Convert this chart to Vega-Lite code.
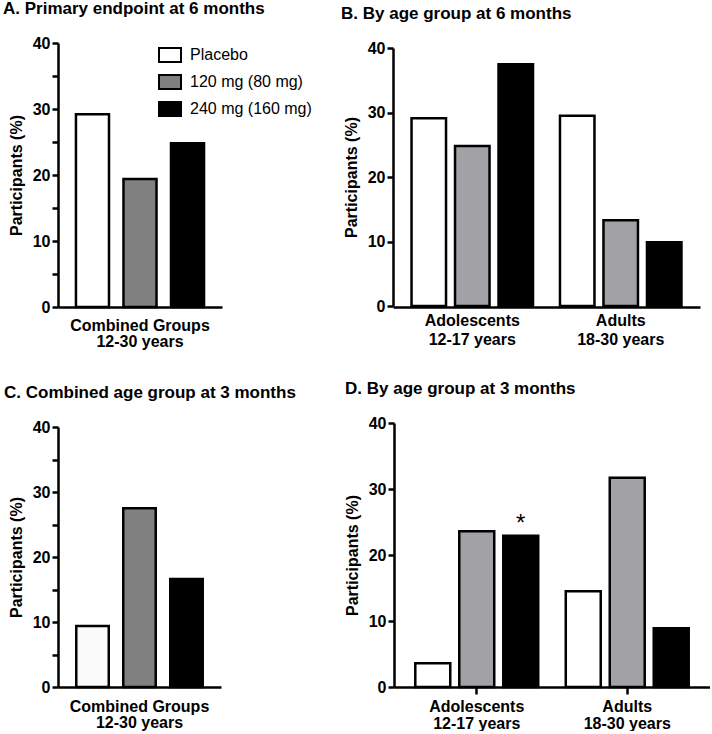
{
  "$schema": "https://vega.github.io/schema/vega-lite/v6.json",
  "padding": {"left": 3, "top": 0, "right": 0, "bottom": 0},
  "config": {
    "font": "Liberation Sans",
    "view": {"stroke": null},
    "axis": {
      "domainColor": "black", "domainWidth": 2.5, "tickColor": "black", "tickWidth": 2.5,
      "labelColor": "black", "labelFont": "Liberation Sans", "labelFontSize": 16, "labelFontWeight": "bold",
      "titleColor": "black", "titleFont": "Liberation Sans", "titleFontSize": 16, "titleFontWeight": "bold",
      "grid": false
    },
    "title": {"font": "Liberation Sans", "fontSize": 17, "fontWeight": "bold", "color": "black", "anchor": "start", "frame": "group", "offset": 17}
  },
  "data": {
    "values": [
      {"panel": "A", "age": "Combined Groups|12-30 years", "group": "Placebo", "value": 29.2},
      {"panel": "A", "age": "Combined Groups|12-30 years", "group": "120 mg (80 mg)", "value": 19.4},
      {"panel": "A", "age": "Combined Groups|12-30 years", "group": "240 mg (160 mg)", "value": 24.8},
      {"panel": "B", "age": "Adolescents|12-17 years", "group": "Placebo", "value": 29.1},
      {"panel": "B", "age": "Adolescents|12-17 years", "group": "120 mg (80 mg)", "value": 24.8},
      {"panel": "B", "age": "Adolescents|12-17 years", "group": "240 mg (160 mg)", "value": 37.5},
      {"panel": "B", "age": "Adults|18-30 years", "group": "Placebo", "value": 29.5},
      {"panel": "B", "age": "Adults|18-30 years", "group": "120 mg (80 mg)", "value": 13.3},
      {"panel": "B", "age": "Adults|18-30 years", "group": "240 mg (160 mg)", "value": 9.9},
      {"panel": "C", "age": "Combined Groups|12-30 years", "group": "Placebo", "value": 9.4},
      {"panel": "C", "age": "Combined Groups|12-30 years", "group": "120 mg (80 mg)", "value": 27.5},
      {"panel": "C", "age": "Combined Groups|12-30 years", "group": "240 mg (160 mg)", "value": 16.6},
      {"panel": "D", "age": "Adolescents|12-17 years", "group": "Placebo", "value": 3.6},
      {"panel": "D", "age": "Adolescents|12-17 years", "group": "120 mg (80 mg)", "value": 23.6},
      {"panel": "D", "age": "Adolescents|12-17 years", "group": "240 mg (160 mg)", "value": 22.9, "sig": "*"},
      {"panel": "D", "age": "Adults|18-30 years", "group": "Placebo", "value": 14.5},
      {"panel": "D", "age": "Adults|18-30 years", "group": "120 mg (80 mg)", "value": 31.7},
      {"panel": "D", "age": "Adults|18-30 years", "group": "240 mg (160 mg)", "value": 8.9}
    ]
  },
  "spacing": 31,
  "resolve": {"scale": {"x": "independent", "y": "independent", "xOffset": "independent", "fill": "independent"}, "legend": {"fill": "independent"}},
  "vconcat": [
    {
      "spacing": 29,
      "resolve": {"scale": {"x": "independent", "y": "independent", "xOffset": "independent", "fill": "independent"}, "legend": {"fill": "independent"}},
      "hconcat": [
        {
          "title": {"text": "A. Primary endpoint at 6 months", "dx": -55},
          "width": 164, "height": 264,
          "transform": [{"filter": "datum.panel === 'A'"}],
          "encoding": {
            "x": {"field": "age", "type": "nominal", "sort": null, "scale": {"paddingInner": 0, "paddingOuter": 0},
              "axis": {"title": null, "labelAngle": 0, "ticks": false, "labelExpr": "split(datum.label, '|')", "labelLineHeight": 16, "labelPadding": 10, "labelBaseline": "top"}},
            "xOffset": {"field": "group", "type": "nominal", "sort": ["Placebo", "120 mg (80 mg)", "240 mg (160 mg)"], "scale": {"paddingInner": 0.305, "paddingOuter": 0.378}},
            "y": {"field": "value", "type": "quantitative", "scale": {"domain": [0, 40], "nice": false},
              "axis": {"title": "Participants (%)", "values": [0, 5, 10, 15, 20, 25, 30, 35, 40], "labelExpr": "datum.value % 10 === 0 ? datum.label : ''", "tickSize": 6, "labelPadding": 2, "titlePadding": 8, "labelOverlap": false, "labelFlush": false}}
          },
          "layer": [
            {
              "mark": {"type": "bar", "stroke": "black", "strokeWidth": 2.5},
              "encoding": {"fill": {"field": "group", "type": "nominal", "scale": {"domain": ["Placebo", "120 mg (80 mg)", "240 mg (160 mg)"], "range": ["#ffffff", "#808080", "#000000"]},
                "legend": {"title": null, "orient": "none", "legendX": 100, "legendY": 0, "padding": 0, "symbolType": "M-1,-0.636H1V0.636H-1Z", "symbolSize": 484, "symbolStrokeColor": "black", "symbolStrokeWidth": 2, "symbolOpacity": 1, "labelFont": "Liberation Sans", "labelFontSize": 16, "labelFontWeight": "normal", "labelColor": "black", "labelOffset": 8, "rowPadding": 4,
                  "encode": {"symbols": {"update": {"fill": {"signal": "datum.value === '120 mg (80 mg)' ? '#acacac' : datum.value === 'Placebo' ? '#ffffff' : '#000000'"}, "stroke": {"value": "black"}, "strokeWidth": {"value": 2}, "opacity": {"value": 1}}}}}}}
            }
          ]
        },
        {
          "title": {"text": "B. By age group at 6 months", "dx": -52},
          "width": 307, "height": 264,
          "transform": [{"filter": "datum.panel === 'B'"}],
          "encoding": {
            "x": {"field": "age", "type": "nominal", "sort": null, "scale": {"paddingInner": 0, "paddingOuter": 0.034},
              "axis": {"title": null, "labelAngle": 0, "ticks": false, "labelExpr": "split(datum.label, '|')", "labelLineHeight": 19, "labelPadding": 5, "labelBaseline": "top"}},
            "xOffset": {"field": "group", "type": "nominal", "sort": ["Placebo", "120 mg (80 mg)", "240 mg (160 mg)"], "scale": {"paddingInner": 0.207, "paddingOuter": 0.31}},
            "y": {"field": "value", "type": "quantitative", "scale": {"domain": [0, 40], "nice": false, "range": [263, 5]},
              "axis": {"title": "Participants (%)", "values": [0, 10, 20, 30, 40], "tickSize": 6, "labelPadding": 2, "titlePadding": 8, "labelOverlap": false, "labelFlush": false}}
          },
          "layer": [
            {
              "mark": {"type": "bar", "stroke": "black", "strokeWidth": 2.5},
              "encoding": {"fill": {"field": "group", "type": "nominal", "scale": {"domain": ["Placebo", "120 mg (80 mg)", "240 mg (160 mg)"], "range": ["#ffffff", "#a2a2a6", "#000000"]}, "legend": null}}
            }
          ]
        }
      ]
    },
    {
      "spacing": 48,
      "resolve": {"scale": {"x": "independent", "y": "independent", "xOffset": "independent", "fill": "independent"}, "legend": {"fill": "independent"}},
      "hconcat": [
        {
          "title": {"text": "C. Combined age group at 3 months", "dx": -54},
          "width": 163, "height": 264,
          "transform": [{"filter": "datum.panel === 'C'"}],
          "encoding": {
            "x": {"field": "age", "type": "nominal", "sort": null, "scale": {"paddingInner": 0, "paddingOuter": 0},
              "axis": {"title": null, "labelAngle": 0, "ticks": false, "labelExpr": "split(datum.label, '|')", "labelLineHeight": 16, "labelPadding": 11, "labelBaseline": "top"}},
            "xOffset": {"field": "group", "type": "nominal", "sort": ["Placebo", "120 mg (80 mg)", "240 mg (160 mg)"], "scale": {"paddingInner": 0.309, "paddingOuter": 0.389}},
            "y": {"field": "value", "type": "quantitative", "scale": {"domain": [0, 40], "nice": false, "range": [264, 4]},
              "axis": {"title": "Participants (%)", "values": [0, 5, 10, 15, 20, 25, 30, 35, 40], "labelExpr": "datum.value % 10 === 0 ? datum.label : ''", "tickSize": 6, "labelPadding": 2, "titlePadding": 8, "labelOverlap": false, "labelFlush": false}}
          },
          "layer": [
            {
              "mark": {"type": "bar", "stroke": "black", "strokeWidth": 2.5},
              "encoding": {"fill": {"field": "group", "type": "nominal", "scale": {"domain": ["Placebo", "120 mg (80 mg)", "240 mg (160 mg)"], "range": ["#fafafa", "#808080", "#000000"]}, "legend": null}}
            }
          ]
        },
        {
          "title": {"text": "D. By age group at 3 months", "dx": -49},
          "width": 316, "height": 264,
          "transform": [{"filter": "datum.panel === 'D'"}],
          "encoding": {
            "x": {"field": "age", "type": "nominal", "sort": null, "scale": {"paddingInner": 0, "paddingOuter": 0.05},
              "axis": {"title": null, "labelAngle": 0, "ticks": true, "tickSize": 7, "labelExpr": "split(datum.label, '|')", "labelLineHeight": 17, "labelPadding": 4, "labelBaseline": "top"}},
            "xOffset": {"field": "group", "type": "nominal", "sort": ["Placebo", "120 mg (80 mg)", "240 mg (160 mg)"], "scale": {"paddingInner": 0.205, "paddingOuter": 0.313}},
            "y": {"field": "value", "type": "quantitative", "scale": {"domain": [0, 40], "nice": false},
              "axis": {"title": "Participants (%)", "values": [0, 10, 20, 30, 40], "tickSize": 6, "labelPadding": 2, "titlePadding": 8, "labelOverlap": false, "labelFlush": false}}
          },
          "layer": [
            {
              "mark": {"type": "bar", "stroke": "black", "strokeWidth": 2.5},
              "encoding": {"fill": {"field": "group", "type": "nominal", "scale": {"domain": ["Placebo", "120 mg (80 mg)", "240 mg (160 mg)"], "range": ["#ffffff", "#a2a2a6", "#000000"]}, "legend": null}}
            },
            {
              "transform": [{"filter": "datum.sig"}],
              "mark": {"type": "text", "fontSize": 24, "baseline": "alphabetic", "dy": -5, "color": "black", "font": "Liberation Sans"},
              "encoding": {"text": {"field": "sig"}}
            }
          ]
        }
      ]
    }
  ]
}
